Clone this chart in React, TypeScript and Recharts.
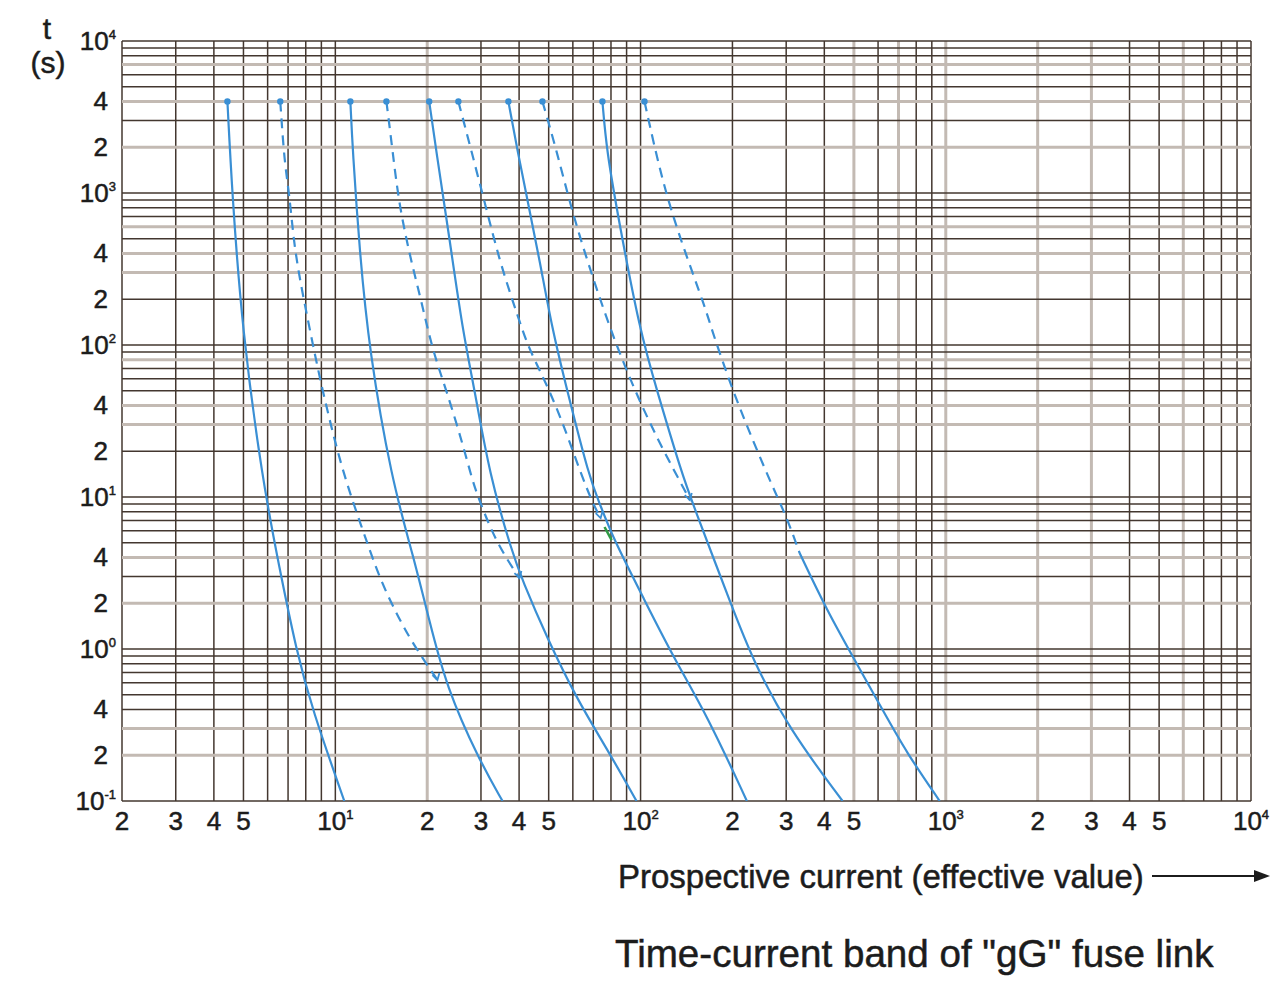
import {LineChart, Line, XAxis, YAxis, ReferenceLine} from "recharts";

// curves as [current, time] pairs (solid = pre-arcing, dashed = operating)
const curve1Solid = [[4.43, 4000], [4.59, 1000], [4.95, 126], [5.77, 12.9], [6.55, 3.46], [7.45, 0.98], [8.41, 0.397], [10.7, 0.1]];
const curve1Dashed = [[6.6, 4000], [6.81, 1600], [7.06, 1000], [7.3, 491], [7.62, 280], [8.34, 113], [9.06, 50.6], [10.5, 15.1], [12.2, 6.35], [13.9, 2.98], [15.8, 1.73], [17.9, 1.09], [21.6, 0.625]];
const curve2Solid = [[11.2, 4000], [11.4, 1900], [12.0, 421], [12.9, 92.7], [15.3, 12.9], [17.9, 4.28], [20.3, 1.55], [23.1, 0.562], [29.6, 0.186], [35.3, 0.1]];
const curve2Dashed = [[14.7, 4000], [15.4, 1900], [16.2, 809], [17.9, 326], [19.1, 198], [20.8, 92.7], [23.1, 50.6], [26.1, 22.6], [28.1, 12.9], [29.6, 9.55], [33.7, 4.98], [40.1, 2.93]];
const curve3Solid = [[20.3, 4000], [21.4, 1900], [23.7, 491], [26.1, 126], [28.6, 50.6], [32.0, 14.0], [38.0, 4.28], [41.0, 2.84], [49.2, 1.2], [62.1, 0.461], [78.0, 0.217], [97, 0.1]];
const curve3Dashed = [[25.3, 4000], [27.9, 1900], [31.3, 773], [34.5, 362], [38.0, 198], [41.0, 126], [43.3, 92.7], [50.3, 50.6], [57.2, 26.4], [63.1, 15.1], [69.6, 9.13], [74.0, 7.27]];
const curve4Solid = [[36.9, 4000], [39.5, 1900], [42.6, 900], [46.7, 362], [51.4, 126], [57.2, 52.1], [68.0, 13.3], [73.4, 9.13], [80.9, 5.46], [103, 2.1], [128, 0.885], [166, 0.36], [223, 0.1]];
const curve4Dashed = [[47.7, 4000], [53.1, 1900], [59.8, 738], [69.6, 280], [80.9, 116], [95.5, 50.6], [114, 23.7], [134, 12.9], [145, 9.55]];
const curve5Solid = [[75, 4000], [77.4, 1900], [84.8, 663], [99.3, 126], [113, 50.6], [137, 14.0], [148, 9.13], [200, 1.86], [233, 0.847], [308, 0.293], [459, 0.1]];
const curve5Dashed = [[103, 4000], [118, 1164], [137, 455], [164, 170], [171, 126], [200, 50.6], [233, 23.7], [271, 11.6], [301, 7.39], [332, 4.28]];
const curve5Tail = [[332, 4.28], [407, 1.81], [503, 0.847], [621, 0.397], [745, 0.207], [955, 0.1]];
const greenMark = [[76.2, 6.35], [80.4, 5.2]];

const xTickValues = [2, 3, 4, 5, 10, 20, 30, 40, 50, 100, 200, 300, 400, 500, 1000, 2000, 3000, 4000, 5000, 10000];
const yTickValues = [0.1, 0.2, 0.4, 1, 2, 4, 10, 20, 40, 100, 200, 400, 1000, 2000, 4000, 10000];

// log paper lines; some print lighter/thicker in the scan
const xGrid = [2, 3, 4, 5, 6, 7, 8, 9, 10, 20, 30, 40, 50, 60, 70, 80, 90, 100, 200, 300, 400, 500, 600, 700, 800, 900, 1000, 2000, 3000, 4000, 5000, 6000, 7000, 8000, 9000, 10000];
const yGrid = [0.1, 0.2, 0.3, 0.4, 0.5, 0.6, 0.7, 0.8, 0.9, 1, 2, 3, 4, 5, 6, 7, 8, 9, 10, 20, 30, 40, 50, 60, 70, 80, 90, 100, 200, 300, 400, 500, 600, 700, 800, 900, 1000, 2000, 3000, 4000, 5000, 6000, 7000, 8000, 9000, 10000];
const xLight = [20, 500, 700, 1000, 2000, 3000, 6000];
const yLight = [0.2, 0.3, 2, 4, 30, 40, 80, 300, 400, 600, 2000, 4000, 7000];

const BLUE = "#3a8fd4";
const DARK = "#43372f";
const LIGHT = "#c3bab3";
const INK = "#1c1c1c";
const FONT = "'Liberation Sans', Arial, sans-serif";

const toPoints = (arr: number[][]) => arr.map(([i, t]) => ({i, t}));

const splitLabel = (v: number) => {
  const e = Math.round(Math.log10(v));
  if (Math.abs(v - Math.pow(10, e)) < 1e-9 * v) 
    return {pow: String(e)};
  const d = Math.floor(Math.log10(v) + 1e-9);
  return {digit: String(Math.round(v / Math.pow(10, d)))};
};

const textStyle = {fontFamily: FONT, fill: INK, stroke: INK, strokeWidth: 0.5};

const XTick = ({x, y, payload} : any) => {
  const l = splitLabel(payload.value);
  return (<text x={x} y={y + 21} textAnchor="middle" fontSize={26} style={textStyle}>
    {l.pow !== undefined ? (<>10<tspan dy={-11} fontSize={13}>{l.pow}</tspan></>) : l.digit}
  </text>);
};

const YTick = ({x, y, payload} : any) => {
  const l = splitLabel(payload.value);
  if (l.pow !== undefined)
    return (<text x={x + 2} y={y + 9} textAnchor="end" fontSize={26} style={textStyle}>
      10<tspan dy={-11} fontSize={13}>{l.pow}</tspan>
    </text>);
  return (<text x={x - 6} y={y + 9} textAnchor="end" fontSize={26} style={textStyle}>{l.digit}</text>);
};

const topDot = (props : any) => {
  if (props.index === 0) 
    return <circle key={`d-${props.index}`} cx={props.cx} cy={props.cy} r={3.2} fill={BLUE}/>;
  return <g key={`d-${props.index}`}/>;
};

// dashed bands end in a small arrow tip where they meet the next solid curve
const endArrow = (len : number) => (props : any) => {
  if (props.index === 0) 
    return <circle key={`d-${props.index}`} cx={props.cx} cy={props.cy} r={3.2} fill={BLUE}/>;
  if (props.index === len - 1) 
    return <polyline key={`d-${props.index}`} points={`${props.cx - 5},${props.cy - 5} ${props.cx},${props.cy} ${props.cx + 2},${props.cy - 7}`} fill="none" stroke={BLUE} strokeWidth={1.8}/>;
  return <g key={`d-${props.index}`}/>;
};

const series = [
  {data: curve1Solid, dashed: false},
  {data: curve1Dashed, dashed: true},
  {data: curve2Solid, dashed: false},
  {data: curve2Dashed, dashed: true},
  {data: curve3Solid, dashed: false},
  {data: curve3Dashed, dashed: true},
  {data: curve4Solid, dashed: false},
  {data: curve4Dashed, dashed: true},
  {data: curve5Solid, dashed: false},
  {data: curve5Dashed, dashed: true}
];

const App = () => {
  return (<div style={{position: "absolute", left: 0, top: 0, width: 1278, height: 987, background: "#fff"}}>
    <LineChart width={1278} height={850} margin={{top: 41, right: 27, bottom: 9, left: 62}}>
      <XAxis type="number" dataKey="i" scale="log" domain={[2, 10000]} allowDataOverflow ticks={xTickValues} interval={0} tick={<XTick/>} tickLine={false} axisLine={false} height={40}/>
      <YAxis type="number" dataKey="t" scale="log" domain={[0.1, 10000]} allowDataOverflow ticks={yTickValues} interval={0} tick={<YTick/>} tickLine={false} axisLine={false} width={60}/>

      {xGrid.map((v) => (<ReferenceLine key={`gx-${v}`} x={v} stroke={xLight.includes(v) ? LIGHT : DARK} strokeWidth={xLight.includes(v) ? 3 : 1.5}/>))}
      {yGrid.map((v) => (<ReferenceLine key={`gy-${v}`} y={v} stroke={yLight.includes(v) ? LIGHT : DARK} strokeWidth={yLight.includes(v) ? 3 : 1.5}/>))}

      {series.map((s, idx) => (<Line key={`c-${idx}`} data={toPoints(s.data)} dataKey="t" type="basis" stroke={BLUE} strokeWidth={2.2} strokeDasharray={s.dashed ? "10 7" : undefined} dot={s.dashed && idx < 9 ? endArrow(s.data.length) : topDot} activeDot={false} isAnimationActive={false}/>))}
      <Line data={toPoints(curve5Tail)} dataKey="t" type="basis" stroke={BLUE} strokeWidth={2.2} dot={false} activeDot={false} isAnimationActive={false}/>
      <Line data={toPoints(greenMark)} dataKey="t" type="linear" stroke="#2f9a45" strokeWidth={2.5} dot={false} activeDot={false} isAnimationActive={false}/>
    </LineChart>

    <svg width={1278} height={987} style={{position: "absolute", left: 0, top: 0, pointerEvents: "none"}}>
      <text x={47} y={39} textAnchor="middle" fontSize={30} style={textStyle}>t</text>
      <text x={48} y={73} textAnchor="middle" fontSize={30} style={textStyle}>(s)</text>
      <text x={618} y={888} fontSize={33} style={textStyle}>Prospective current (effective value)</text>
      <line x1={1152} y1={876} x2={1256} y2={876} stroke={INK} strokeWidth={2}/>
      <polygon points="1254,870 1270,876 1254,882" fill={INK}/>
      <text x={615} y={967} fontSize={38.6} style={textStyle}>Time-current band of "gG" fuse link</text>
    </svg>
  </div>);
};

export default App;
